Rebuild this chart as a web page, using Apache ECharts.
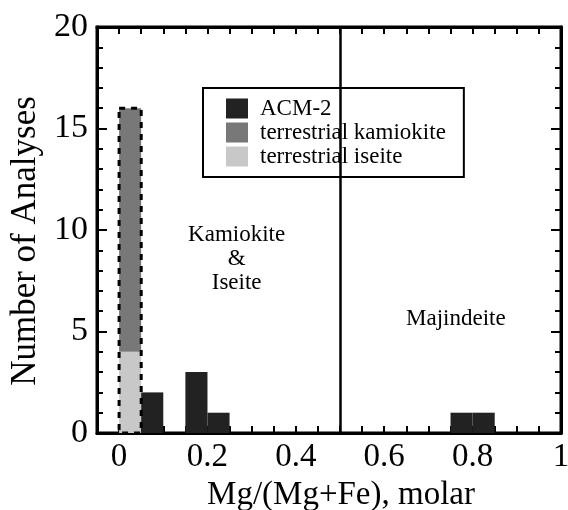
<!DOCTYPE html>
<html>
<head>
<meta charset="utf-8">
<script src="https://cdn.jsdelivr.net/npm/echarts@6/dist/echarts.min.js"></script>
<style>html,body{margin:0;padding:0;background:#fff;}#c{width:568px;height:510px;}</style>
</head>
<body>
<div id="c"></div>
<script>
// ---- data ----
const binWidth = 0.05;
const acmBins = [0.05, 0.15, 0.20, 0.75, 0.80];
const acmCounts = [2, 3, 1, 1, 1];
const terrBins = [0];
const iseiteCounts = [4];
const kamiokiteCounts = [12];
const seriesNames = ['ACM-2', 'terrestrial kamiokite', 'terrestrial iseite'];
const xTickLabels = ['0', '0.2', '0.4', '0.6', '0.8', '1'];
const yTickLabels = ['0', '5', '10', '15', '20'];
const fieldLabels = ['Kamiokite\n&\nIseite', 'Majindeite'];
const fieldLabelX = [0.266, 0.762];
const fieldLabelY = [8.55, 5.62];
const boundaryX = 0.5;

// ---- helpers ----
const FONT = 'Liberation Serif';
function rectRender(fill, stroke) {
  return function (params, api) {
    const p0 = api.coord([api.value(0), api.value(3)]);
    const p1 = api.coord([api.value(1), api.value(2)]);
    const style = stroke
      ? { fill: 'none', stroke: '#000', lineWidth: 3, lineDash: [6, 6] }
      : { fill: fill };
    return { type: 'rect', shape: { x: p0[0], y: p0[1], width: p1[0] - p0[0], height: p1[1] - p0[1] }, style: style };
  };
}
const acmData = acmBins.map((b, i) => [b, b + binWidth, 0, acmCounts[i]]);
const iseiteData = terrBins.map((b, i) => [b, b + binWidth, 0, iseiteCounts[i]]);
const kamioData = terrBins.map((b, i) => [b, b + binWidth, iseiteCounts[i], iseiteCounts[i] + kamiokiteCounts[i]]);
const outlineData = terrBins.map((b, i) => [b, b + binWidth, 0, iseiteCounts[i] + kamiokiteCounts[i]]);

function xLabel(v) {
  const idx = Math.round(v / binWidth);
  if (idx < 0 || idx % 4 !== 0) return '';
  return xTickLabels[idx / 4] || '';
}
function yLabel(v) {
  const idx = Math.round(v / 5);
  return yTickLabels[idx] || '';
}

const axisLineStyle = { color: '#000', width: 3 };
const tickStyle = { color: '#000', width: 2 };
const xBase = { type: 'value', min: -0.05, max: 1, interval: binWidth, splitLine: { show: false },
  axisLine: { show: true, onZero: false, lineStyle: axisLineStyle },
  axisTick: { show: true, inside: true, length: 7, lineStyle: tickStyle } };
const yBase = { type: 'value', min: 0, max: 20, interval: 5, splitLine: { show: false },
  axisLine: { show: true, onZero: false, lineStyle: axisLineStyle },
  axisTick: { show: true, inside: true, length: 10, lineStyle: tickStyle },
  minorTick: { show: true, splitNumber: 5, length: 6, lineStyle: tickStyle } };

const chart = echarts.init(document.getElementById('c'), null, { renderer: 'canvas' });
chart.setOption({
  animation: false,
  backgroundColor: '#fff',
  grid: { left: 97, right: 7, top: 27, bottom: 77, show: true, borderColor: '#000', borderWidth: 3,
    containLabel: false, outerBoundsMode: 'none' },
  xAxis: [
    Object.assign({}, xBase, { position: 'bottom',
      axisLabel: { formatter: xLabel, fontFamily: FONT, fontSize: 33, color: '#000', margin: 8, showMinLabel: true, showMaxLabel: true, hideOverlap: false },
      name: 'Mg/(Mg+Fe), molar', nameLocation: 'middle', nameGap: 44,
      nameTextStyle: { fontFamily: FONT, fontSize: 33, color: '#000', padding: [0, 0, 0, 24] } }),
    Object.assign({}, xBase, { position: 'top', axisLabel: { show: false } })
  ],
  yAxis: [
    Object.assign({}, yBase, { position: 'left',
      axisLabel: { formatter: yLabel, fontFamily: FONT, fontSize: 34, color: '#000', margin: 9 },
      name: 'Number of Analyses', nameLocation: 'middle', nameGap: 50,
      nameTextStyle: { fontFamily: FONT, fontSize: 35, color: '#000', padding: [0, 22, 0, 0] } }),
    Object.assign({}, yBase, { position: 'right', axisLabel: { show: false } })
  ],
  legend: {
    orient: 'vertical', left: 203, top: 88,
    data: seriesNames.map(n => ({ name: n, icon: 'rect' })),
    itemWidth: 22, itemHeight: 20, itemGap: 1,
    borderColor: '#000', borderWidth: 2, padding: [9, 18, 9, 23],
    backgroundColor: '#fff',
    textStyle: { fontFamily: FONT, fontSize: 23, lineHeight: 20, color: '#000', padding: [0, 0, 0, 7] },
    selectedMode: false
  },
  series: [
    { name: 'terrestrial iseite', type: 'custom', renderItem: rectRender('#c8c8c8'), itemStyle: { color: '#c8c8c8' },
      dimensions: ['x0', 'x1', 'y0', 'y1'], encode: { x: [0, 1], y: [2, 3] }, data: iseiteData, z: 2 },
    { name: 'terrestrial kamiokite', type: 'custom', renderItem: rectRender('#787878'), itemStyle: { color: '#787878' },
      dimensions: ['x0', 'x1', 'y0', 'y1'], encode: { x: [0, 1], y: [2, 3] }, data: kamioData, z: 2 },
    { name: 'ACM-2', type: 'custom', renderItem: rectRender('#222222'), itemStyle: { color: '#222222' },
      dimensions: ['x0', 'x1', 'y0', 'y1'], encode: { x: [0, 1], y: [2, 3] }, data: acmData, z: 2 },
    { name: 'outline', type: 'custom', renderItem: rectRender(null, true), itemStyle: { color: '#000' },
      dimensions: ['x0', 'x1', 'y0', 'y1'], encode: { x: [0, 1], y: [2, 3] }, data: outlineData, z: 3 },
    { name: 'fields', type: 'scatter', symbolSize: 0, silent: true, z: 4,
      itemStyle: { opacity: 1 },
      data: fieldLabels.map((t, i) => ({ value: [fieldLabelX[i], fieldLabelY[i]], label: { formatter: t } })),
      label: { show: true, position: 'inside', fontFamily: FONT, fontSize: 23, lineHeight: 24, color: '#000', opacity: 1, align: 'center', verticalAlign: 'middle' },
      markLine: { silent: true, symbol: 'none', label: { show: false },
        lineStyle: { color: '#000', width: 2.5, type: 'solid', opacity: 1 },
        data: [{ xAxis: boundaryX }] } }
  ]
});
</script>
</body>
</html>
